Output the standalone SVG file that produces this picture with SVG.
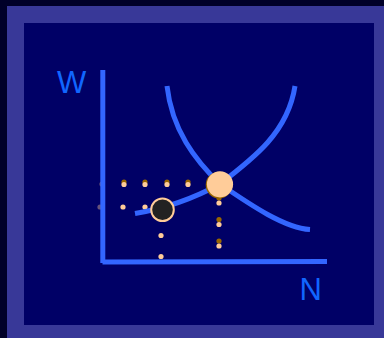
<svg xmlns="http://www.w3.org/2000/svg" width="384" height="338" viewBox="0 0 384 338">
<style>
.lbl{font-family:"Liberation Sans",Arial,sans-serif;font-size:31px;fill:#1166ff}
.ax{stroke:#3366ff;stroke-width:5;fill:none}
.cv{stroke:#3366ff;stroke-width:5;fill:none;stroke-linecap:butt}
.pe{fill:#ffcc99}
.br{fill:#996600}
</style>
<rect width="384" height="338" fill="#000028"/>
<rect x="7" y="6" width="377" height="332" fill="#383898"/>
<rect x="24" y="23" width="350" height="302" fill="#000066"/>
<g id="dots">
<circle class="pe" cx="102" cy="184" r="2.6" opacity="0.4"/>
<circle class="br" cx="124" cy="182" r="2.6"/><circle class="pe" cx="124" cy="184.5" r="2.6"/>
<circle class="br" cx="145" cy="182" r="2.6"/><circle class="pe" cx="145" cy="184.5" r="2.6"/>
<circle class="br" cx="167" cy="182" r="2.6"/><circle class="pe" cx="167" cy="184.5" r="2.6"/>
<circle class="br" cx="188" cy="182" r="2.6"/><circle class="pe" cx="188" cy="184.5" r="2.6"/>
<circle class="pe" cx="100" cy="207" r="2.6" opacity="0.4"/>
<circle class="pe" cx="123" cy="207" r="2.6"/>
<circle class="pe" cx="145" cy="207" r="2.6"/>
<circle class="br" cx="219" cy="198" r="2.6"/><circle class="pe" cx="219" cy="203" r="2.6"/>
<circle class="br" cx="219" cy="219.5" r="2.6"/><circle class="pe" cx="219" cy="224.5" r="2.6"/>
<circle class="br" cx="219" cy="241" r="2.6"/><circle class="pe" cx="219" cy="246" r="2.6"/>
<circle class="pe" cx="161" cy="235.5" r="2.6"/>
<circle class="pe" cx="161" cy="256.5" r="2.6"/>
</g>
<g id="axes">
<line class="ax" x1="102.8" y1="70" x2="102.8" y2="263"/>
<line class="ax" x1="102.5" y1="262" x2="327" y2="261.5"/>
</g>
<g id="connectors">
<path class="cv" d="M135,213.5 Q180,206 220,184"/>
<path class="cv" d="M220,184 C254,158 288,132 295,86"/>
<path class="cv" d="M167,86 C172,130 195,160 220,184"/>
<path class="cv" d="M220,184 C252,206 285,228 310,229.5"/>
</g>
<g id="equilibrium">
<circle cx="219" cy="185" r="13.3" fill="#996600"/>
<circle cx="220" cy="184.3" r="13.1" fill="#ffcc99"/>
</g>
<g id="point">
<circle cx="162.5" cy="209.7" r="11.3" fill="#222222" stroke="#ffcc99" stroke-width="2"/>
</g>
<g id="labels">
<text class="lbl" x="57" y="93">W</text>
<text class="lbl" x="299.5" y="300">N</text>
</g>
</svg>
